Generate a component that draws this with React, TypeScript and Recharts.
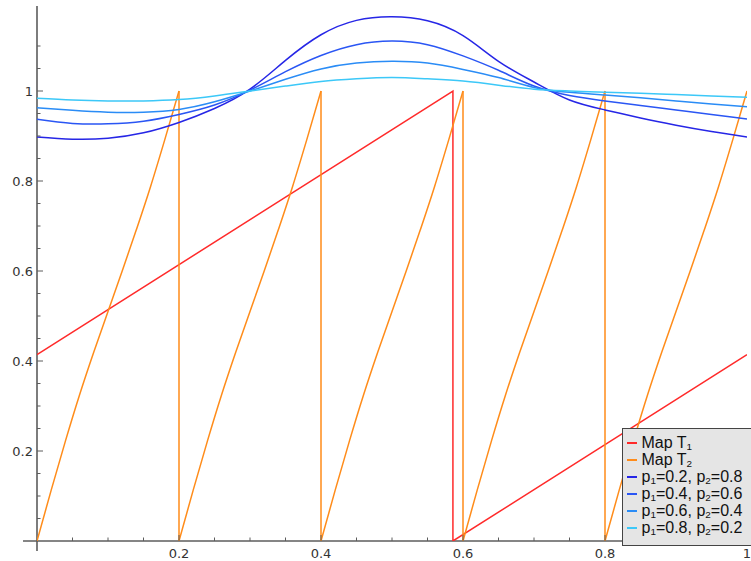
import React from "react";
import { Legend, Line, LineChart, ReferenceLine, XAxis, YAxis } from "recharts";

// Maps T1 (rotation) and T2 (5-branch expanding map) against the
// invariant densities for a few (p1, p2) pairs.

const gridX = [0, 0.05, 0.1, 0.15, 0.2, 0.25, 0.3, 0.35, 0.4, 0.45, 0.5, 0.55, 0.6, 0.65, 0.7, 0.75, 0.8, 0.85, 0.9, 0.95, 1];

const densP02 = [0.898, 0.893, 0.895, 0.907, 0.93, 0.961, 1.004, 1.068, 1.125, 1.157, 1.165, 1.156, 1.123, 1.066, 1.02, 0.98, 0.958, 0.94, 0.924, 0.91, 0.898];
const densP04 = [0.937, 0.928, 0.927, 0.933, 0.948, 0.969, 1.002, 1.043, 1.079, 1.103, 1.111, 1.103, 1.078, 1.046, 1.011, 0.99, 0.978, 0.968, 0.958, 0.948, 0.938];
const densP06 = [0.963, 0.957, 0.953, 0.953, 0.959, 0.976, 1.0, 1.026, 1.049, 1.062, 1.066, 1.062, 1.048, 1.03, 1.008, 0.997, 0.991, 0.985, 0.978, 0.971, 0.965];
const densP08 = [0.984, 0.98, 0.978, 0.978, 0.981, 0.989, 1.0, 1.011, 1.021, 1.027, 1.03, 1.027, 1.022, 1.013, 1.004, 1.0, 0.997, 0.995, 0.992, 0.989, 0.986];

const t1X = [0, 0.5858, 0.5858, 1];
const t1Y = [0.414, 1, 0, 0.414];

// one branch of T2 (position inside the branch -> value)
const t2BranchPos = [0, 0.1, 0.2, 0.3, 0.4, 0.5, 0.6, 0.7, 0.8, 0.9, 1];
const t2BranchVal = [0, 0.113, 0.222, 0.325, 0.42, 0.51, 0.6, 0.692, 0.788, 0.892, 1];
const t2BranchStart = [0, 0.2, 0.4, 0.6, 0.8];
const t2BranchWidth = 0.2;

const xTicks = [0.05, 0.1, 0.15, 0.2, 0.25, 0.3, 0.35, 0.4, 0.45, 0.5, 0.55, 0.6, 0.65, 0.7, 0.75, 0.8, 0.85, 0.9, 0.95, 1];
const yTicks = [0.05, 0.1, 0.15, 0.2, 0.25, 0.3, 0.35, 0.4, 0.45, 0.5, 0.55, 0.6, 0.65, 0.7, 0.75, 0.8, 0.85, 0.9, 0.95, 1, 1.05, 1.1];

const series = [
    { name: "p1=0.2, p2=0.8", a: "0.2", b: "0.8", values: densP02, color: "#2626e6" },
    { name: "p1=0.4, p2=0.6", a: "0.4", b: "0.6", values: densP04, color: "#2a56f4" },
    { name: "p1=0.6, p2=0.4", a: "0.6", b: "0.4", values: densP06, color: "#2a8cf6" },
    { name: "p1=0.8, p2=0.2", a: "0.8", b: "0.2", values: densP08, color: "#3cc8f8" },
];

const RED = "#ff2a2a";
const ORANGE = "#ff8c1a";
const AXIS = "#5c5c5c";
const TICK_FONT = "'DejaVu Sans', sans-serif";

const t1Data = t1X.map((x, i) => ({ x, y: t1Y[i] }));

// smooth branches, split by a null so each one is its own curve
const t2Data = t2BranchStart.flatMap((s) => [
    ...t2BranchPos.map((u, i) => ({ x: s + u * t2BranchWidth, y: t2BranchVal[i] as number | null })),
    { x: s + t2BranchWidth, y: null },
]);
// the vertical drop at the end of every branch but the last
const t2Drops = t2BranchStart.slice(1).flatMap((s) => [
    { x: s, y: t2BranchVal[t2BranchVal.length - 1] as number | null },
    { x: s, y: t2BranchVal[0] as number | null },
    { x: s, y: null },
]);

function isMajor(v: number) {
    return Math.abs(v * 5 - Math.round(v * 5)) < 1e-6;
}

function fmt(v: number) {
    return Math.abs(v - 1) < 1e-9 ? "1" : v.toFixed(1);
}

function XTick(props: any) {
    const { x, y, payload } = props;
    const v = payload.value as number;
    const major = isMajor(v);
    return (
        <g>
            <line x1={x} x2={x} y1={y} y2={y - (major ? 6 : 3.5)} stroke={AXIS} strokeWidth={1} />
            {major && (
                <text x={x} y={y + 17} textAnchor="middle" fontSize={13} fontFamily={TICK_FONT} fill="#333">
                    {fmt(v)}
                </text>
            )}
        </g>
    );
}

function YTick(props: any) {
    const { x, y, payload } = props;
    const v = payload.value as number;
    const major = isMajor(v);
    return (
        <g>
            <line x1={x} x2={x + (major ? 6 : 3.5)} y1={y} y2={y} stroke={AXIS} strokeWidth={1} />
            {major && (
                <text x={x - 4} y={y + 5} textAnchor="end" fontSize={13} fontFamily={TICK_FONT} fill="#333">
                    {fmt(v)}
                </text>
            )}
        </g>
    );
}

const sub = { fontSize: "0.62em", verticalAlign: "-0.25em", lineHeight: 0 } as const;

function LegendBox() {
    const row = (color: string, label: React.ReactNode, key: string) => (
        <div key={key} style={{ display: "flex", alignItems: "center", height: 17 }}>
            <span style={{ display: "inline-block", width: 10, height: 2, background: color, marginRight: 5 }} />
            <span style={{ whiteSpace: "nowrap" }}>{label}</span>
        </div>
    );
    return (
        <div
            style={{
                background: "#e5e5e5",
                border: "1.5px solid #444",
                padding: "5px 0 0 3.5px",
                boxSizing: "border-box",
                width: 140,
                height: 118,
                fontFamily: "'Liberation Sans', Arial, sans-serif",
                fontSize: 16,
                lineHeight: "17px",
                color: "#111",
            }}
        >
            {row(RED, <>Map T<span style={sub}>1</span></>, "t1")}
            {row(ORANGE, <>Map T<span style={sub}>2</span></>, "t2")}
            {series.map((s) =>
                row(
                    s.color,
                    <>
                        p<span style={sub}>1</span>={s.a}, p<span style={sub}>2</span>={s.b}
                    </>,
                    s.name
                )
            )}
        </div>
    );
}

export default function App() {
    return (
        <div style={{ position: "absolute", left: 0, top: 0, background: "#fff" }}>
            <LineChart width={751} height={561} margin={{ top: 6, right: 4, bottom: 0, left: 0 }}>
                <XAxis
                    type="number"
                    dataKey="x"
                    domain={[0, 1]}
                    ticks={xTicks}
                    interval={0}
                    height={20}
                    axisLine={false}
                    tickLine={false}
                    tickSize={0}
                    tickMargin={0}
                    tick={<XTick />}
                    allowDataOverflow
                />
                <YAxis
                    type="number"
                    dataKey="y"
                    domain={[0, 1.1889]}
                    ticks={yTicks}
                    interval={0}
                    width={37}
                    axisLine={false}
                    tickLine={false}
                    tickSize={0}
                    tickMargin={0}
                    tick={<YTick />}
                    allowDataOverflow
                />
                <ReferenceLine
                    segment={[{ x: -0.0197, y: 0 }, { x: 1.0056, y: 0 }]}
                    stroke={AXIS}
                    strokeWidth={1.6}
                    ifOverflow="visible"
                />
                <ReferenceLine
                    segment={[{ x: 0, y: -0.0222 }, { x: 0, y: 1.1889 }]}
                    stroke={AXIS}
                    strokeWidth={1.6}
                    ifOverflow="visible"
                />
                <Line
                    data={t1Data}
                    dataKey="y"
                    name="Map T1"
                    type="linear"
                    stroke={RED}
                    strokeWidth={1.5}
                    dot={false}
                    isAnimationActive={false}
                />
                <Line
                    data={t2Data}
                    dataKey="y"
                    name="Map T2"
                    type="monotone"
                    stroke={ORANGE}
                    strokeWidth={1.5}
                    dot={false}
                    isAnimationActive={false}
                />
                <Line
                    data={t2Drops}
                    dataKey="y"
                    name="Map T2 drops"
                    legendType="none"
                    type="linear"
                    stroke={ORANGE}
                    strokeWidth={1.5}
                    dot={false}
                    isAnimationActive={false}
                />
                {series.map((s) => (
                    <Line
                        key={s.name}
                        data={gridX.map((x, i) => ({ x, y: s.values[i] }))}
                        dataKey="y"
                        name={s.name}
                        type="natural"
                        stroke={s.color}
                        strokeWidth={1.5}
                        dot={false}
                        isAnimationActive={false}
                    />
                ))}
                <Legend
                    layout="vertical"
                    align="center"
                    verticalAlign="middle"
                    wrapperStyle={{ left: 622, top: 428, width: 140, height: 118 }}
                    content={() => <LegendBox />}
                />
            </LineChart>
        </div>
    );
}
